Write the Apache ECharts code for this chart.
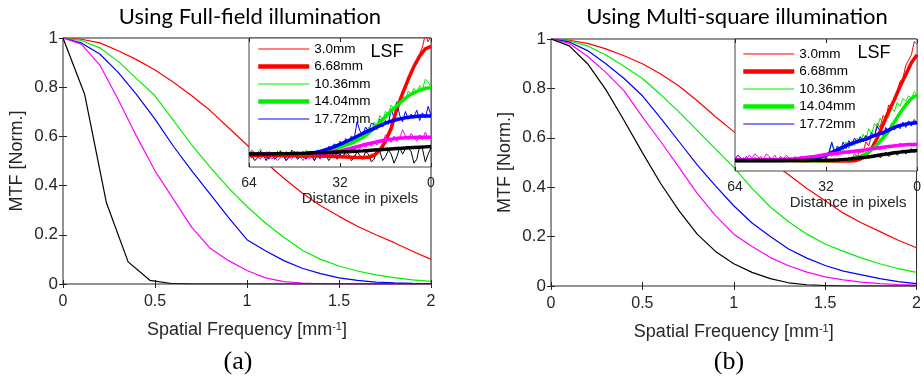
<!DOCTYPE html>
<html><head><meta charset="utf-8">
<script src="https://cdn.jsdelivr.net/npm/echarts@6/dist/echarts.min.js"></script>
<style>html,body{margin:0;padding:0;background:#fff}#c{width:924px;height:377px}</style>
</head><body><div id="c"></div>
<script>
// ---------- MTF data (spatial frequency, mm^-1) ----------
const freq = [0,0.1,0.2,0.3,0.4,0.5,0.6,0.7,0.8,0.9,1.0,1.1,1.2,1.3,1.4,1.5,1.6,1.7,1.8,1.9,2.0];
const mtfA_red     = [1,0.995,0.98,0.948,0.912,0.87,0.82,0.765,0.705,0.635,0.565,0.495,0.43,0.37,0.318,0.275,0.235,0.2,0.168,0.133,0.10];
const mtfA_green   = [1,0.99,0.96,0.905,0.835,0.765,0.665,0.565,0.475,0.39,0.315,0.248,0.19,0.137,0.1,0.073,0.053,0.037,0.026,0.017,0.011];
const mtfA_blue    = [1,0.98,0.935,0.86,0.77,0.67,0.56,0.46,0.365,0.27,0.18,0.135,0.095,0.064,0.042,0.025,0.015,0.008,0.005,0.003,0.002];
const mtfA_magenta = [1,0.975,0.89,0.75,0.6,0.46,0.345,0.23,0.145,0.095,0.055,0.025,0.01,0.004,0.001,0,0,0,0,0,0];
const blackAFreq   = [0,0.118,0.236,0.354,0.472,0.59,0.708,1.0,1.5,2.0];
const mtfA_black   = [1,0.77,0.33,0.09,0.015,0.002,0,0,0,0];

const mtfB_red     = [1,0.995,0.982,0.96,0.932,0.9,0.858,0.81,0.75,0.685,0.625,0.565,0.505,0.45,0.395,0.345,0.295,0.255,0.22,0.185,0.155];
const mtfB_green   = [1,0.992,0.972,0.935,0.89,0.84,0.775,0.705,0.63,0.555,0.48,0.395,0.32,0.26,0.21,0.17,0.14,0.113,0.09,0.07,0.055];
const mtfB_blue    = [1,0.988,0.953,0.9,0.84,0.77,0.68,0.585,0.49,0.405,0.325,0.255,0.2,0.15,0.113,0.083,0.06,0.045,0.03,0.018,0.01];
const mtfB_magenta = [1,0.982,0.93,0.865,0.79,0.685,0.585,0.48,0.375,0.285,0.21,0.16,0.115,0.082,0.056,0.037,0.025,0.016,0.01,0.006,0.004];
const mtfB_black   = [1,0.972,0.9,0.795,0.67,0.54,0.415,0.305,0.21,0.14,0.09,0.055,0.03,0.013,0.005,0.002,0,0,0,0,0];

// ---------- LSF inset data (distance in pixels) ----------
const lsfDist = [0,1,2,3,4,5,6,7,8,9,10,11,12,13,14,15,16,17,18,19,20,21,22,23,24,25,26,27,28,29,30,31,32,33,34,35,36,37,38,39,40,41,42,43,44,45,46,47,48,49,50,51,52,53,54,55,56,57,58,59,60,61,62,63,64];
const fitDist = [64,56,48,44,40,36,32,28,24,22,20,18,16,14,12,10,8,6,4,2,0];

const lsfA_red = [1.02,0.97,1.03,0.93,0.88,0.80,0.79,0.71,0.70,0.60,0.59,0.49,0.47,0.36,0.33,0.23,0.22,0.14,0.15,0.10,0.10,0.10,0.07,0.08,0.06,0.08,0.07,0.09,0.07,0.08,0.10,0.08,0.09,0.11,0.08,0.10,0.09,0.11,0.08,0.10,0.12,0.09,0.10,0.08,0.11,0.09,0.10,0.12,0.09,0.08,0.10,0.12,0.09,0.10,0.11,0.08,0.10,0.12,0.09,0.11,0.10,0.08,0.11,0.13,0.10];
const lsfA_green = [0.62,0.66,0.68,0.60,0.63,0.58,0.61,0.56,0.59,0.52,0.55,0.49,0.51,0.45,0.48,0.41,0.43,0.36,0.40,0.32,0.35,0.27,0.31,0.24,0.27,0.21,0.24,0.18,0.22,0.17,0.20,0.15,0.18,0.13,0.17,0.14,0.12,0.15,0.11,0.13,0.10,0.12,0.09,0.11,0.13,0.10,0.08,0.11,0.09,0.12,0.10,0.08,0.11,0.13,0.09,0.11,0.08,0.10,0.12,0.09,0.14,0.11,0.10,0.13,0.11];
const lsfA_blue = [0.40,0.47,0.38,0.42,0.36,0.44,0.39,0.41,0.37,0.43,0.35,0.40,0.50,0.38,0.45,0.33,0.36,0.31,0.37,0.29,0.33,0.34,0.27,0.31,0.25,0.28,0.35,0.22,0.24,0.19,0.22,0.17,0.20,0.15,0.18,0.14,0.16,0.12,0.14,0.10,0.13,0.11,0.08,0.12,0.10,0.07,0.11,0.09,0.12,0.08,0.10,0.07,0.11,0.09,0.12,0.08,0.10,0.06,0.11,0.09,0.12,0.08,0.10,0.07,0.11];
const lsfA_magenta = [0.24,0.22,0.27,0.21,0.25,0.20,0.23,0.26,0.21,0.24,0.29,0.22,0.20,0.24,0.19,0.22,0.25,0.19,0.21,0.17,0.20,0.16,0.19,0.15,0.18,0.14,0.16,0.13,0.15,0.12,0.14,0.11,0.13,0.09,0.12,0.08,0.11,0.07,0.10,0.06,0.09,0.05,0.08,0.06,0.09,0.05,0.08,0.07,0.10,0.06,0.08,0.05,0.09,0.07,0.05,0.08,0.06,0.09,0.07,0.10,0.06,0.08,0.11,0.07,0.09];
const lsfA_black = [0.15,0.10,0.04,0.14,0.16,0.06,0.03,0.12,0.15,0.14,0.10,0.15,0.08,0.03,0.10,0.13,0.08,0.05,0.12,0.14,0.06,0.04,0.10,0.12,0.06,0.09,0.12,0.07,0.05,0.10,0.12,0.08,0.10,0.06,0.11,0.08,0.05,0.10,0.12,0.07,0.09,0.05,0.11,0.09,0.06,0.12,0.08,0.06,0.11,0.13,0.07,0.05,0.10,0.12,0.08,0.06,0.11,0.09,0.05,0.10,0.12,0.07,0.05,0.09,0.11];
const fitA_red = [0.09,0.09,0.088,0.087,0.085,0.083,0.08,0.075,0.073,0.075,0.09,0.13,0.2,0.3,0.45,0.57,0.68,0.78,0.86,0.915,0.935];
const fitA_green = [0.1,0.1,0.1,0.105,0.11,0.13,0.155,0.185,0.23,0.26,0.3,0.345,0.39,0.435,0.475,0.515,0.55,0.575,0.595,0.61,0.615];
const fitA_blue = [0.1,0.1,0.1,0.105,0.115,0.14,0.175,0.215,0.26,0.28,0.3,0.32,0.34,0.355,0.368,0.377,0.385,0.39,0.395,0.395,0.395];
const fitA_magenta = [0.1,0.1,0.1,0.1,0.105,0.11,0.125,0.145,0.17,0.18,0.19,0.2,0.21,0.216,0.222,0.225,0.228,0.229,0.23,0.23,0.23];
const fitA_black = [0.1,0.102,0.105,0.107,0.11,0.113,0.117,0.12,0.125,0.128,0.131,0.134,0.137,0.14,0.143,0.146,0.149,0.152,0.154,0.156,0.158];

const lsfB_red = [0.96,0.98,0.88,0.84,0.80,0.70,0.68,0.60,0.56,0.48,0.50,0.40,0.42,0.33,0.36,0.26,0.27,0.19,0.22,0.14,0.16,0.11,0.13,0.09,0.10,0.08,0.09,0.07,0.08,0.09,0.07,0.08,0.10,0.08,0.07,0.09,0.08,0.10,0.08,0.07,0.09,0.11,0.08,0.09,0.07,0.10,0.08,0.09,0.11,0.08,0.07,0.09,0.10,0.08,0.09,0.11,0.08,0.10,0.07,0.09,0.08,0.10,0.09,0.07,0.09];
const lsfB_green = [0.58,0.60,0.55,0.57,0.53,0.55,0.49,0.52,0.45,0.48,0.40,0.43,0.36,0.40,0.33,0.36,0.28,0.32,0.24,0.28,0.21,0.25,0.19,0.23,0.17,0.22,0.15,0.19,0.13,0.16,0.21,0.12,0.10,0.12,0.09,0.10,0.08,0.09,0.07,0.09,0.08,0.07,0.09,0.08,0.07,0.09,0.08,0.10,0.07,0.08,0.09,0.07,0.08,0.10,0.08,0.07,0.09,0.08,0.10,0.07,0.08,0.09,0.07,0.08,0.10];
const lsfB_blue = [0.36,0.39,0.34,0.38,0.33,0.37,0.32,0.35,0.31,0.36,0.29,0.33,0.27,0.30,0.34,0.26,0.29,0.24,0.27,0.22,0.26,0.21,0.25,0.19,0.23,0.17,0.22,0.15,0.19,0.13,0.22,0.14,0.10,0.12,0.09,0.11,0.08,0.10,0.09,0.08,0.10,0.08,0.09,0.07,0.09,0.08,0.10,0.08,0.09,0.07,0.09,0.08,0.10,0.08,0.07,0.09,0.08,0.10,0.08,0.09,0.11,0.08,0.10,0.12,0.09];
const lsfB_magenta = [0.20,0.21,0.19,0.21,0.20,0.19,0.21,0.19,0.20,0.18,0.19,0.17,0.18,0.16,0.17,0.16,0.17,0.15,0.16,0.15,0.14,0.16,0.14,0.15,0.13,0.15,0.13,0.14,0.12,0.13,0.11,0.13,0.11,0.10,0.12,0.09,0.11,0.09,0.10,0.08,0.10,0.08,0.09,0.11,0.08,0.10,0.12,0.09,0.11,0.08,0.12,0.09,0.11,0.13,0.09,0.08,0.11,0.13,0.10,0.12,0.09,0.08,0.10,0.12,0.09];
const lsfB_black = [0.16,0.14,0.17,0.15,0.13,0.16,0.14,0.12,0.15,0.13,0.11,0.14,0.12,0.10,0.13,0.11,0.12,0.10,0.11,0.09,0.11,0.09,0.10,0.08,0.10,0.07,0.09,0.08,0.07,0.09,0.08,0.07,0.09,0.08,0.07,0.09,0.08,0.07,0.08,0.09,0.07,0.08,0.09,0.07,0.08,0.09,0.07,0.08,0.09,0.08,0.07,0.09,0.08,0.07,0.08,0.09,0.07,0.08,0.09,0.08,0.07,0.08,0.09,0.08,0.07];
const fitB_red = [0.08,0.08,0.08,0.079,0.078,0.077,0.075,0.075,0.075,0.078,0.09,0.12,0.17,0.25,0.35,0.45,0.54,0.64,0.73,0.82,0.88];
const fitB_green = [0.08,0.08,0.08,0.08,0.079,0.078,0.078,0.08,0.09,0.1,0.11,0.13,0.16,0.2,0.25,0.3,0.37,0.44,0.5,0.55,0.576];
const fitB_blue = [0.08,0.08,0.08,0.082,0.085,0.095,0.12,0.16,0.2,0.215,0.23,0.24,0.26,0.275,0.29,0.31,0.33,0.345,0.355,0.362,0.365];
const fitB_magenta = [0.085,0.085,0.085,0.09,0.1,0.11,0.125,0.135,0.145,0.15,0.155,0.16,0.17,0.175,0.18,0.185,0.19,0.195,0.198,0.2,0.2];
const fitB_black = [0.08,0.08,0.08,0.08,0.08,0.081,0.082,0.083,0.09,0.095,0.1,0.105,0.11,0.117,0.125,0.13,0.138,0.143,0.148,0.152,0.155];

const legendNames = ['3.0mm','6.68mm','10.36mm','14.04mm','17.72mm'];
const legendThick = [false,true,false,true,false];
const mtfXTicks = {min:0, max:2, interval:0.5};
const mtfYTicks = {min:0, max:1, interval:0.2};
const lsfXTicks = {min:0, max:64, interval:32};

// ---------- build ----------
const AX = '#262626';
const FONT = '"Liberation Sans", Arial, sans-serif';
const RED='#ff0000', GREEN='#00f000', BLUE='#0000ff', MAG='#ff00ff', BLK='#000000';
const LEG_COLORS = [RED, RED, GREEN, GREEN, BLUE];
const zip = (xs, ys) => xs.map((x,i)=>[x, ys[i]]);

const xAxes = [], yAxes = [], series = [];

function mainPanel(gi) {
  const xi = xAxes.length, yi = yAxes.length;
  const tick = () => ({show:true, inside:true, length:4, lineStyle:{color:AX}});
  xAxes.push(Object.assign({gridIndex:gi, type:'value', position:'bottom', axisLine:{show:false}, splitLine:{show:false},
    axisTick:tick(), axisLabel:{color:AX, fontSize:16, fontFamily:FONT, margin:10},
    name:'Spatial Frequency [mm{sup|-1}]', nameLocation:'middle', nameGap:37,
    nameTextStyle:{color:AX, fontSize:18, fontFamily:FONT, rich:{sup:{fontSize:11, fontFamily:FONT, color:AX, verticalAlign:'top', lineHeight:10}}}}, mtfXTicks));
  xAxes.push(Object.assign({gridIndex:gi, type:'value', position:'top', axisLine:{show:false}, splitLine:{show:false},
    axisTick:tick(), axisLabel:{show:false}}, mtfXTicks));
  yAxes.push(Object.assign({gridIndex:gi, type:'value', position:'left', axisLine:{show:false}, splitLine:{show:false},
    axisTick:tick(), axisLabel:{color:AX, fontSize:17, fontFamily:FONT, margin:5},
    name:'MTF [Norm.]', nameLocation:'middle', nameGap:37, nameTextStyle:{color:AX, fontSize:18, fontFamily:FONT}}, mtfYTicks));
  yAxes.push(Object.assign({gridIndex:gi, type:'value', position:'right', axisLine:{show:false}, splitLine:{show:false},
    axisTick:tick(), axisLabel:{show:false}}, mtfYTicks));
  return [xi, yi];
}
function insetPanel(gi, nameShift) {
  const xi = xAxes.length, yi = yAxes.length;
  const tick = () => ({show:true, inside:true, length:4, lineStyle:{color:AX}});
  xAxes.push(Object.assign({gridIndex:gi, type:'value', inverse:true, position:'bottom', z:12, axisLine:{show:false}, splitLine:{show:false},
    axisTick:tick(), axisLabel:{color:AX, fontSize:14, fontFamily:FONT, margin:9},
    name:'Distance in pixels', nameLocation:'middle', nameGap:24,
    nameTextStyle:{color:AX, fontSize:15, fontFamily:FONT, padding:[0,0,0,nameShift]}}, lsfXTicks));
  xAxes.push(Object.assign({gridIndex:gi, type:'value', inverse:true, position:'top', z:12, axisLine:{show:false}, splitLine:{show:false},
    axisTick:tick(), axisLabel:{show:false}}, lsfXTicks));
  yAxes.push({gridIndex:gi, type:'value', min:0, max:1, z:12, axisLine:{show:false}, splitLine:{show:false}, axisTick:{show:false}, axisLabel:{show:false}});
  return [xi, yi];
}
function line(name, data, color, width, xi, yi, z) {
  series.push({type:'line', name, data, xAxisIndex:xi, yAxisIndex:yi, z, symbol:'none', showSymbol:false, clip:true,
    lineStyle:{color, width}, itemStyle:{color}, emphasis:{disabled:true}});
}

// panel (a)
let [mx, my] = mainPanel(0);
line('mA red', zip(freq, mtfA_red), RED, 1.2, mx, my, 2);
line('mA green', zip(freq, mtfA_green), GREEN, 1.2, mx, my, 2);
line('mA blue', zip(freq, mtfA_blue), BLUE, 1.2, mx, my, 2);
line('mA magenta', zip(freq, mtfA_magenta), MAG, 1.2, mx, my, 2);
line('mA black', zip(blackAFreq, mtfA_black), BLK, 1.2, mx, my, 2);
let [ix, iy] = insetPanel(1, 40);
line('3.0mm', zip(lsfDist, lsfA_red), RED, 1, ix, iy, 11);
line('10.36mm', zip(lsfDist, lsfA_green), GREEN, 1, ix, iy, 11);
line('17.72mm', zip(lsfDist, lsfA_blue), BLUE, 1, ix, iy, 11);
line('lA magenta', zip(lsfDist, lsfA_magenta), MAG, 1, ix, iy, 11);
line('lA black', zip(lsfDist, lsfA_black), BLK, 1, ix, iy, 11);
line('6.68mm', zip(fitDist, fitA_red), RED, 3.5, ix, iy, 11);
line('14.04mm', zip(fitDist, fitA_green), GREEN, 3.5, ix, iy, 11);
line('fA blue', zip(fitDist, fitA_blue), BLUE, 3.5, ix, iy, 11);
line('fA magenta', zip(fitDist, fitA_magenta), MAG, 3.5, ix, iy, 11);
line('fA black', zip(fitDist, fitA_black), BLK, 3.5, ix, iy, 11);

// panel (b)
[mx, my] = mainPanel(2);
line('mB red', zip(freq, mtfB_red), RED, 1.2, mx, my, 2);
line('mB green', zip(freq, mtfB_green), GREEN, 1.2, mx, my, 2);
line('mB blue', zip(freq, mtfB_blue), BLUE, 1.2, mx, my, 2);
line('mB magenta', zip(freq, mtfB_magenta), MAG, 1.2, mx, my, 2);
line('mB black', zip(freq, mtfB_black), BLK, 1.2, mx, my, 2);
[ix, iy] = insetPanel(3, 44);
line('3.0mm', zip(lsfDist, lsfB_red), RED, 1, ix, iy, 11);
line('10.36mm', zip(lsfDist, lsfB_green), GREEN, 1, ix, iy, 11);
line('17.72mm', zip(lsfDist, lsfB_blue), BLUE, 1, ix, iy, 11);
line('lB magenta', zip(lsfDist, lsfB_magenta), MAG, 1, ix, iy, 11);
line('lB black', zip(lsfDist, lsfB_black), BLK, 1, ix, iy, 11);
line('6.68mm', zip(fitDist, fitB_red), RED, 3.5, ix, iy, 11);
line('14.04mm', zip(fitDist, fitB_green), GREEN, 3.5, ix, iy, 11);
line('fB blue', zip(fitDist, fitB_blue), BLUE, 3.5, ix, iy, 11);
line('fB magenta', zip(fitDist, fitB_magenta), MAG, 3.5, ix, iy, 11);
line('fB black', zip(fitDist, fitB_black), BLK, 3.5, ix, iy, 11);

function makeLegend(left, top) {
  return {left, top, orient:'vertical', itemWidth:51, itemHeight:14, itemGap:3.5, selectedMode:false, z:13,
    itemStyle:{opacity:0},
    textStyle:{color:'#000', fontSize:13.5, fontFamily:FONT},
    data: legendNames.map((n, i) => ({name:n,
      itemStyle:{opacity:0},
      textStyle:{color:'#000', fontSize:13.5, fontFamily:FONT},
      lineStyle:{width: legendThick[i] ? 4.5 : 1.2, color: LEG_COLORS[i], opacity:1}}))};
}

const txt = (x, y, text, font) => ({type:'text', x, y, z:20,
  style:{text, font, fill:'#000', align:'center', verticalAlign:'middle', textAlign:'center', textVerticalAlign:'middle'}});

const chart = echarts.init(document.getElementById('c'), null, {renderer:'canvas'});
chart.setOption({
  animation:false,
  backgroundColor:'#fff',
  grid:[
    {left:63, top:38, width:368, height:246, show:true, borderColor:AX, borderWidth:1, backgroundColor:'transparent', z:0},
    {left:249, top:38, width:182, height:129, show:true, borderColor:'#444', borderWidth:1, backgroundColor:'#fff', z:10},
    {left:551, top:39, width:367, height:247, show:true, borderColor:AX, borderWidth:1, backgroundColor:'transparent', z:0},
    {left:735, top:39, width:183, height:132, show:true, borderColor:'#444', borderWidth:1, backgroundColor:'#fff', z:10}
  ],
  xAxis:xAxes, yAxis:yAxes, series,
  legend:[ makeLegend(251, 37), makeLegend(736, 42) ],
  graphic:[
    txt(250, 17, 'Using Full-field illumination', '22px Lato'),
    txt(737, 17, 'Using Multi-square illumination', '22px Lato'),
    txt(387, 52, 'LSF', '18px "Liberation Sans"'),
    txt(874, 53, 'LSF', '18px "Liberation Sans"'),
    txt(238, 362, '(a)', '26px "Liberation Serif"'),
    txt(729, 362, '(b)', '26px "Liberation Serif"')
  ]
});
</script></body></html>
